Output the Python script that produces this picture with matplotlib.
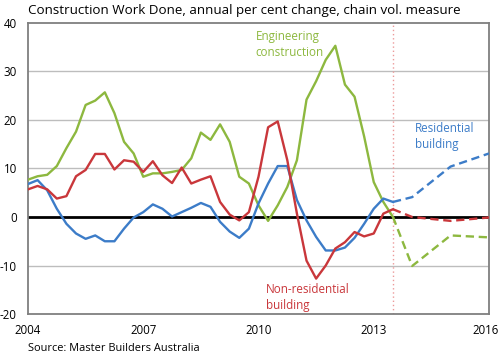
import matplotlib
matplotlib.use("Agg")
import matplotlib.pyplot as plt
import matplotlib.transforms as mtransforms
import numpy as np

plt.rcParams['font.family'] = ['Open Sans', 'DejaVu Sans']

# quarterly history 2004.0 .. 2013.5
years_hist = [2004 + 0.25 * i for i in range(39)]
engineering = [7.7, 8.4, 8.7, 10.5,
               14.2, 17.6, 23.1, 24.0,
               25.7, 21.4, 15.5, 13.1,
               8.3, 9.0, 9.0, 9.3,
               9.7, 12.1, 17.4, 15.9,
               19.1, 15.5, 8.3, 6.9,
               2.4, -0.8, 2.4, 6.2,
               11.7, 24.2, 28.0, 32.4,
               35.3, 27.3, 24.8, 16.6,
               7.2, 3.1, 0.0]
non_residential = [5.7, 6.4, 5.7, 3.8,
                   4.3, 8.4, 9.7, 13.0,
                   13.0, 9.8, 11.7, 11.4,
                   9.3, 11.5, 8.6, 7.0,
                   10.2, 6.9, 7.7, 8.4,
                   3.1, 0.5, -0.7, 1.0,
                   8.3, 18.5, 19.7, 11.7,
                   0.7, -9.0, -12.7, -10.0,
                   -6.5, -5.2, -3.1, -4.0,
                   -3.4, 0.7, 1.6]
residential = [6.8, 7.6, 5.5, 1.7,
               -1.4, -3.4, -4.5, -3.8,
               -5.0, -5.0, -2.4, -0.1,
               1.0, 2.6, 1.7, 0.1,
               1.0, 1.9, 2.9, 2.1,
               -1.0, -3.0, -4.3, -2.4,
               2.8, 6.9, 10.5, 10.5,
               3.5, -0.7, -4.1, -6.9,
               -6.9, -6.3, -4.3, -1.4,
               1.7, 3.8, 3.1]

# forecasts
years_fc = [2013.5, 2014.0, 2015.0, 2016.0]
engineering_fc = [0.0, -10.1, -3.8, -4.2]
non_residential_fc = [1.6, 0.0, -0.8, -0.1]
residential_fc = [3.1, 4.1, 10.4, 13.1]

forecast_start = 2013.5
xticks = [2004, 2007, 2010, 2013, 2016]
yticks = [-20, -10, 0, 10, 20, 30, 40]

GREEN = '#8DB83F'
RED = '#C9373B'
BLUE = '#3C7CC8'

fig = plt.figure(figsize=(5.0, 3.59), dpi=100)
ax = fig.add_axes([0.056, 0.1253, 0.922, 0.8107])

for y in [-10, 10, 20, 30]:
    ax.axhline(y, color='#BDBDBD', lw=1.0, zorder=1)
ax.axhline(0, color='black', lw=2.0, zorder=2)
ax.axvline(forecast_start, color='#EC9A9A', lw=1.0, ls=(0, (1, 2)), zorder=2)

lw = 1.7
ax.plot(years_hist, engineering, color=GREEN, lw=lw, zorder=3)
ax.plot(years_hist, residential, color=BLUE, lw=lw, zorder=3)
ax.plot(years_hist, non_residential, color=RED, lw=lw, zorder=4)
ax.plot(years_fc, engineering_fc, color=GREEN, lw=lw, ls=(0, (3.5, 2)), zorder=3)
ax.plot(years_fc, residential_fc, color=BLUE, lw=lw, ls=(0, (3.5, 2)), zorder=3)
ax.plot(years_fc, non_residential_fc, color=RED, lw=lw, ls=(0, (3.5, 2)), zorder=4)

ax.set_xlim(2004, 2016)
ax.set_ylim(-20, 40)
ax.set_xticks(xticks)
ax.set_xticklabels([str(t) for t in xticks])
ax.set_yticks(yticks)
ax.set_yticklabels([str(t) for t in yticks])
ax.tick_params(axis='both', length=0, labelsize=8.3, colors='black')
ax.tick_params(axis='y', pad=8)
ax.tick_params(axis='x', pad=7)
for s in ax.spines.values():
    s.set_color('#7F7F7F')
    s.set_linewidth(1.3)

# nudge the last x label so it stays inside the figure
last = ax.get_xticklabels()[-1]
last.set_transform(last.get_transform() +
                   mtransforms.ScaledTranslation(-3 / 100, 0, fig.dpi_scale_trans))

ax.text(2009.92, 38.6, 'Engineering\nconstruction', color=GREEN, fontsize=8.4,
        ha='left', va='top', linespacing=1.3)
ax.text(2014.08, 19.6, 'Residential\nbuilding', color=BLUE, fontsize=8.4,
        ha='left', va='top', linespacing=1.3)
ax.text(2010.2, -13.6, 'Non-residential\nbuilding', color=RED, fontsize=8.4,
        ha='left', va='top', linespacing=1.3)

fig.text(0.056, 0.972, 'Construction Work Done, annual per cent change, chain vol. measure',
         fontsize=9.65, ha='left', va='center')
fig.text(0.056, 0.028, 'Source: Master Builders Australia', fontsize=7.9,
         ha='left', va='center')

fig.savefig('out.png', dpi=100)
